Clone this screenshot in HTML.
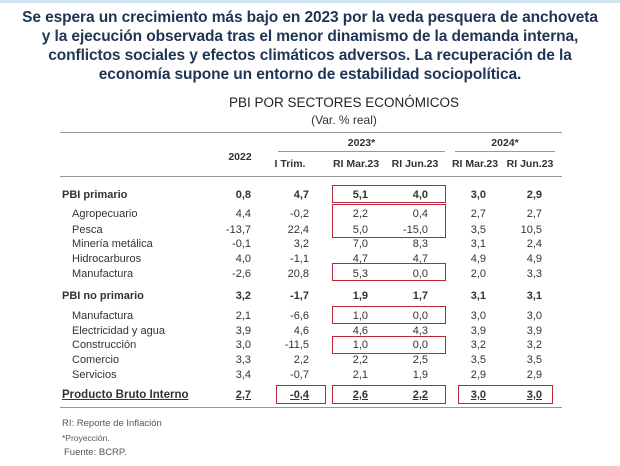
<!DOCTYPE html>
<html><head><meta charset="utf-8">
<style>
body{margin:0;width:620px;height:466px;background:#fff;font-family:"Liberation Sans",sans-serif;overflow:hidden;position:relative;color:#333}
.t{position:absolute;white-space:nowrap}
.h{left:0;width:620px;text-align:center;font-weight:bold;font-size:15.5px;color:#1f3456;letter-spacing:-0.1px}
.r{position:absolute;height:0;border-top:1.5px solid #999}
.box{position:absolute;border:1.5px solid #b8283a}
.n{position:absolute;font-size:11px;text-align:right;width:40px;transform:translateY(-50%)}
.l{position:absolute;font-size:11px;transform:translateY(-50%)}
.b{font-weight:bold}
</style></head><body>
<div style="position:absolute;left:0;top:0;width:620px;height:3px;background:#cfe4f0"></div>
<div class="t h" style="top:9px">Se espera un crecimiento más bajo en 2023 por la veda pesquera de anchoveta</div>
<div class="t h" style="top:28px">y la ejecución observada tras el menor dinamismo de la demanda interna,</div>
<div class="t h" style="top:47px">conflictos sociales y efectos climáticos adversos. La recuperación de la</div>
<div class="t h" style="top:66px">economía supone un entorno de estabilidad sociopolítica.</div>
<div class="t" style="left:0;width:620px;text-align:center;top:95px;font-size:13.5px;color:#222;padding-left:68px;box-sizing:border-box">PBI POR SECTORES ECONÓMICOS</div>
<div class="t" style="left:0;width:620px;text-align:center;top:113px;font-size:12px;color:#333;padding-left:68px;box-sizing:border-box">(Var. % real)</div>
<div class="r" style="left:60px;width:502px;top:132px"></div>
<div class="t b" style="left:278px;width:167px;text-align:center;top:137px;font-size:10.5px">2023*</div>
<div class="r" style="left:278px;width:167px;top:151px;border-top-width:1px"></div>
<div class="t b" style="left:455px;width:100px;text-align:center;top:137px;font-size:10.5px">2024*</div>
<div class="r" style="left:455px;width:100px;top:151px;border-top-width:1px"></div>
<div class="t b" style="left:220px;width:40px;text-align:center;top:151px;font-size:10.5px">2022</div>
<div class="t b" style="left:268px;width:44px;text-align:center;top:158px;font-size:10.5px">I Trim.</div>
<div class="t b" style="left:328px;width:56px;text-align:center;top:158px;font-size:10.5px">RI Mar.23</div>
<div class="t b" style="left:387px;width:56px;text-align:center;top:158px;font-size:10.5px">RI Jun.23</div>
<div class="t b" style="left:447px;width:56px;text-align:center;top:158px;font-size:10.5px">RI Mar.23</div>
<div class="t b" style="left:502px;width:56px;text-align:center;top:158px;font-size:10.5px">RI Jun.23</div>
<div class="r" style="left:60px;width:502px;top:176px"></div>

<div class="box" style="left:332px;top:185px;width:112px;height:16px"></div>
<div class="box" style="left:332px;top:204px;width:112px;height:32px"></div>
<div class="box" style="left:332px;top:263px;width:112px;height:16px"></div>
<div class="box" style="left:332px;top:306px;width:112px;height:16px"></div>
<div class="box" style="left:332px;top:336px;width:112px;height:16px"></div>
<div class="box" style="left:276px;top:385px;width:48px;height:17px"></div>
<div class="box" style="left:332px;top:385px;width:112px;height:17px"></div>
<div class="box" style="left:458px;top:385px;width:93px;height:17px"></div>

<div id="rows"></div>
<div class="r" style="left:60px;width:502px;top:407px"></div>
<div class="t" style="left:62px;top:418px;font-size:9.5px;color:#555">RI: Reporte de Inflación</div>
<div class="t" style="left:62px;top:433px;font-size:8.5px;color:#555">*Proyección.</div>
<div class="t" style="left:64px;top:447px;font-size:9.5px;color:#555">Fuente: BCRP.</div>
<script>
const labels=["PBI primario","Agropecuario","Pesca","Minería metálica","Hidrocarburos","Manufactura","PBI no primario","Manufactura","Electricidad y agua","Construcción","Comercio","Servicios","Producto Bruto Interno"];
const values=[["0,8","4,7","5,1","4,0","3,0","2,9"],["4,4","-0,2","2,2","0,4","2,7","2,7"],["-13,7","22,4","5,0","-15,0","3,5","10,5"],["-0,1","3,2","7,0","8,3","3,1","2,4"],["4,0","-1,1","4,7","4,7","4,9","4,9"],["-2,6","20,8","5,3","0,0","2,0","3,3"],["3,2","-1,7","1,9","1,7","3,1","3,1"],["2,1","-6,6","1,0","0,0","3,0","3,0"],["3,9","4,6","4,6","4,3","3,9","3,9"],["3,0","-11,5","1,0","0,0","3,2","3,2"],["3,3","2,2","2,2","2,5","3,5","3,5"],["3,4","-0,7","2,1","1,9","2,9","2,9"],["2,7","-0,4","2,6","2,2","3,0","3,0"]];
const rowY=[195,214,230,244,259,274,296,316,331,345,360,375,395];
const colRight=[251,309,368,428,486,542];
const bold=[0,6,12];
const c=document.getElementById('rows');
labels.forEach((lab,i)=>{
  const isB=bold.includes(i);
  const d=document.createElement('div');
  
  
  d.className='l'+(isB?' b':'');
  d.style.left=(isB?62:72)+'px';d.style.top=rowY[i]+'px';
  if(i==12){d.style.textDecoration='underline';d.style.fontSize='11.5px';}
  d.textContent=lab;c.appendChild(d);
  values[i].forEach((v,j)=>{
    const n=document.createElement('div');
    
    
    n.className='n'+(isB?' b':'');
    n.style.left=(colRight[j]-40)+'px';n.style.top=rowY[i]+'px';
    if(i==12)n.style.textDecoration='underline';
    n.textContent=v;c.appendChild(n);
  });
});
</script>
</body></html>
